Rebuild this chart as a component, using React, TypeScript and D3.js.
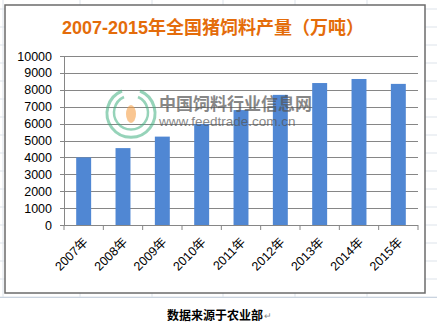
import React from "react";
import * as d3 from "d3";

const years = ["2007年", "2008年", "2009年", "2010年", "2011年", "2012年", "2013年", "2014年", "2015年"];
const output = [4000, 4550, 5230, 5980, 6800, 7700, 8400, 8640, 8350];
const yTicks = [0, 1000, 2000, 3000, 4000, 5000, 6000, 7000, 8000, 9000, 10000];
const title = "2007-2015年全国猪饲料产量（万吨）";
const source = "数据来源于农业部";

const W = 437, H = 325;
const left = 64, right = 418, top = 56, bottom = 225;

export default function App() {
  const x = d3.scaleBand<string>().domain(years).range([left, right]).paddingInner(0.62).paddingOuter(0.31);
  const y = d3.scaleLinear().domain([0, 10000]).range([bottom, top]);
  const step = x.step();
  const sheetCols = [80, 152, 223, 295, 367];
  const sheetRows = d3.range(9, 330, 18);
  const font = "'Liberation Sans', 'Noto Sans CJK SC', sans-serif";
  return (
    <svg width={W} height={H} style={{ position: "absolute", left: 0, top: 0 }} fontFamily={font}>
      <rect width={W} height={H} fill="#fff" />
      {sheetCols.map((c) => (
        <line key={"c" + c} x1={c} x2={c} y1={0} y2={H} stroke="#dde3ea" strokeWidth={1} />
      ))}
      {sheetRows.map((r) => (
        <line key={"r" + r} x1={0} x2={W} y1={r} y2={r} stroke="#dde3ea" strokeWidth={1} />
      ))}
      <line x1={3} x2={3} y1={0} y2={H} stroke="#dde3ea" />
      <rect x={0} y={297} width={W} height={H - 297} fill="#fff" />
      <line x1={0} x2={W} y1={297.5} y2={297.5} stroke="#c9d3df" />
      <rect x={5} y={5} width={420} height={288} fill="#fff" stroke="#6b6b6b" strokeWidth={1.5} />
      <text x={213} y={34} textAnchor="middle" fontSize={18} fontWeight="bold" fill="#e46c0a">{title}</text>
      {yTicks.map((t) => (
        <g key={t}>
          <line x1={left - 4} x2={right} y1={Math.round(y(t)) + 0.5} y2={Math.round(y(t)) + 0.5} stroke="#868686" strokeWidth={1} />
          <text x={52} y={y(t) + 4.5} textAnchor="end" fontSize={12.5} fill="#000">{t}</text>
        </g>
      ))}
      <line x1={left + 0.5} x2={left + 0.5} y1={top} y2={bottom} stroke="#868686" />
      {d3.range(years.length + 1).map((i) => (
        <line key={"t" + i} x1={left + i * step} x2={left + i * step} y1={bottom} y2={bottom + 5} stroke="#868686" />
      ))}
      {years.map((yr, i) => (
        <rect key={yr} x={x(yr)} y={y(output[i])} width={x.bandwidth()} height={bottom - y(output[i])} fill="#5087d3" />
      ))}
      {/* watermark */}
      <g>
        <path d="M 122 91 A 24 24 0 1 0 140 91" fill="none" stroke="#3fae7f" strokeWidth={3} opacity={0.55} />
        <path d="M 124 97 A 17 17 0 1 0 138 97" fill="none" stroke="#3fae7f" strokeWidth={2.5} opacity={0.55} />
        <ellipse cx={131} cy={114} rx={5} ry={9} fill="#f5a04a" opacity={0.6} />
        <text x={159} y={110} fontSize={17} fill="#555" fontWeight="bold" opacity={0.7}>中国饲料行业信息网</text>
        <text x={159} y={126} fontSize={13.5} fill="#555" opacity={0.7}>www.feedtrade.com.cn</text>
      </g>
      {years.map((yr) => {
        const cx = (x(yr) as number) + x.bandwidth() / 2 + 5;
        const cy = 243;
        return (
          <text key={"l" + yr} x={cx} y={cy} textAnchor="end" fontSize={12.5} fill="#000" transform={`rotate(-45 ${cx} ${cy})`}>
            {yr}
          </text>
        );
      })}
      <text x={167} y={320} fontSize={12} fontWeight="bold" fill="#000">{source}</text>
      <text x={264} y={319} fontSize={9} fill="#888">↵</text>
    </svg>
  );
}
